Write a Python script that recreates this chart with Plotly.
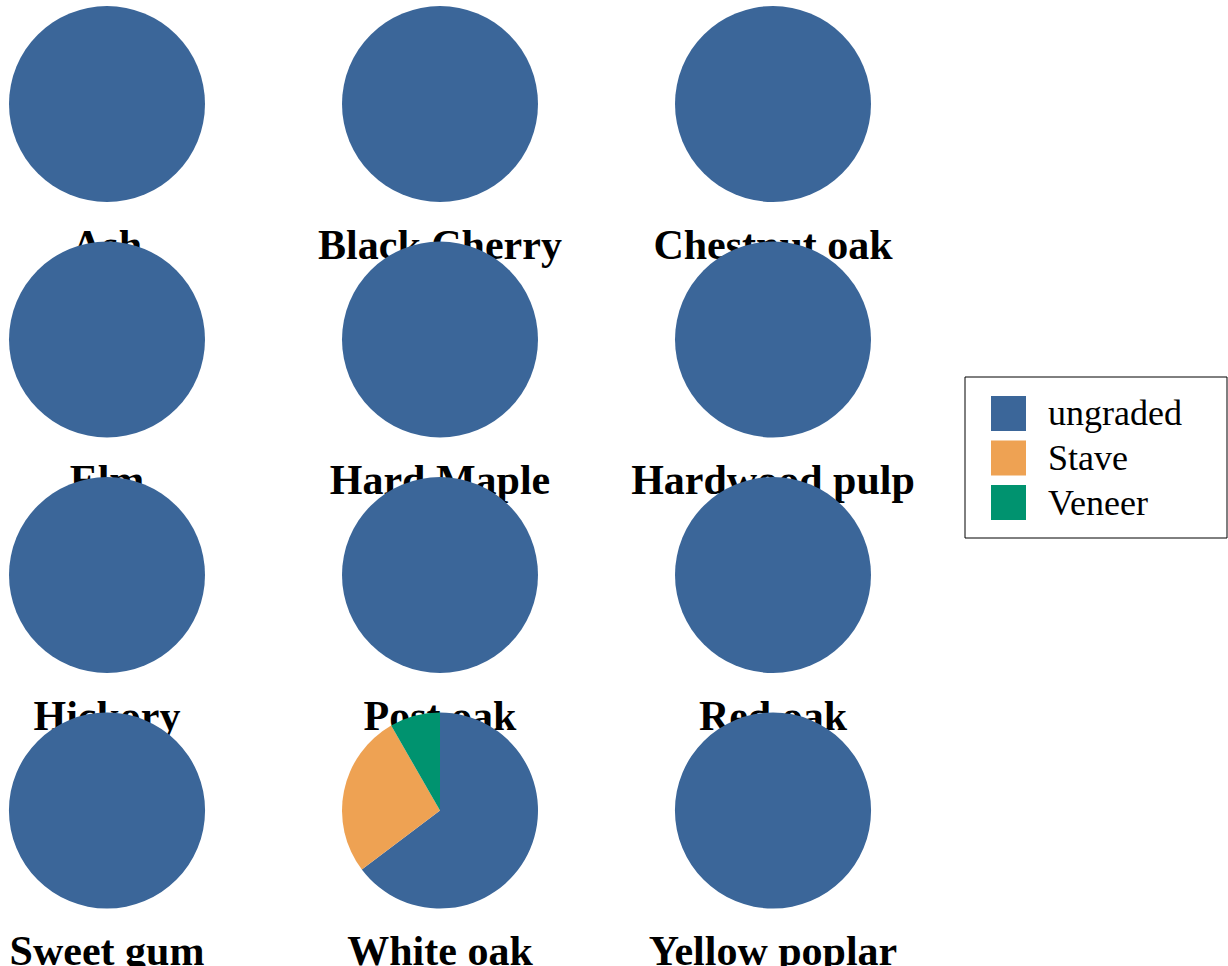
import plotly.graph_objects as go

# Species shown in the grid, row by row
species = ["Ash", "Black Cherry", "Chestnut oak",
           "Elm", "Hard Maple", "Hardwood pulp",
           "Hickory", "Post oak", "Red oak",
           "Sweet gum", "White oak", "Yellow poplar"]

# Grade categories and colours
grades = ["ungraded", "Stave", "Veneer"]
grade_colors = ["#3B6699", "#EEA253", "#00936F"]

# Share of volume by grade (%) for each species
ungraded = [100, 100, 100, 100, 100, 100, 100, 100, 100, 100, 64.7, 100]
stave = [0, 0, 0, 0, 0, 0, 0, 0, 0, 0, 27.0, 0]
veneer = [0, 0, 0, 0, 0, 0, 0, 0, 0, 0, 8.3, 0]

W, H = 1228, 966
NCOL = 3
COL_X0, COL_DX = 107, 333        # pie centre of first column, column spacing (px)
ROW_Y0, ROW_DY = 104, 235.5      # pie centre of first row, row spacing (px)
R = 98                           # pie radius (px)
TITLE_DY = 144                   # title centre below pie centre (px)

fig = go.Figure()

# Titles sit beneath the pies (cartesian layer is drawn before the pie layer)
tx, ty = [], []
for i, name in enumerate(species):
    r, c = divmod(i, NCOL)
    tx.append(COL_X0 + COL_DX * c)
    ty.append(ROW_Y0 + ROW_DY * r + TITLE_DY)
fig.add_trace(go.Scatter(
    x=tx, y=ty, text=species, mode="text", textposition="middle center",
    textfont=dict(family="Liberation Serif", size=42, color="black", weight="bold"),
    hoverinfo="skip", showlegend=False, cliponaxis=False,
))

for i, name in enumerate(species):
    r, c = divmod(i, NCOL)
    cx = COL_X0 + COL_DX * c
    cy = ROW_Y0 + ROW_DY * r
    fig.add_trace(go.Pie(
        labels=grades,
        values=[ungraded[i], stave[i], veneer[i]],
        name=name,
        sort=False,
        direction="clockwise",
        rotation=0,
        textinfo="none",
        marker=dict(colors=grade_colors, line=dict(width=0)),
        domain=dict(x=[(cx - R) / W, (cx + R) / W],
                    y=[1 - (cy + R) / H, 1 - (cy - R) / H]),
        showlegend=False,
    ))

# Legend box drawn in pixel space
LX0, LY0, LX1, LY1 = 965, 377, 1227, 538
SQ_X, SQ = 991, 35
SQ_Y0, SQ_DY = 396, 44.5
TXT_X = 1046
shapes = [dict(type="rect", xref="paper", yref="paper",
               x0=LX0 / W, x1=LX1 / W, y0=1 - LY1 / H, y1=1 - LY0 / H,
               line=dict(color="black", width=1), fillcolor="white", layer="below")]
annotations = []
for k, (g, col) in enumerate(zip(grades, grade_colors)):
    y0 = SQ_Y0 + SQ_DY * k
    shapes.append(dict(type="rect", xref="paper", yref="paper",
                       x0=SQ_X / W, x1=(SQ_X + SQ) / W,
                       y0=1 - (y0 + SQ) / H, y1=1 - y0 / H,
                       line=dict(width=0), fillcolor=col))
    annotations.append(dict(x=TXT_X / W, y=1 - (y0 + SQ / 2) / H, xref="paper", yref="paper",
                            text=g, showarrow=False, xanchor="left", yanchor="middle",
                            font=dict(family="Liberation Serif", size=36, color="black")))

fig.update_layout(
    width=W, height=H,
    margin=dict(l=0, r=0, t=0, b=0),
    paper_bgcolor="white", plot_bgcolor="white",
    xaxis=dict(range=[0, W], visible=False, domain=[0, 1], fixedrange=True),
    yaxis=dict(range=[H, 0], visible=False, domain=[0, 1], fixedrange=True),
    shapes=shapes,
    annotations=annotations,
    showlegend=False,
)

fig.write_html("out.html")
